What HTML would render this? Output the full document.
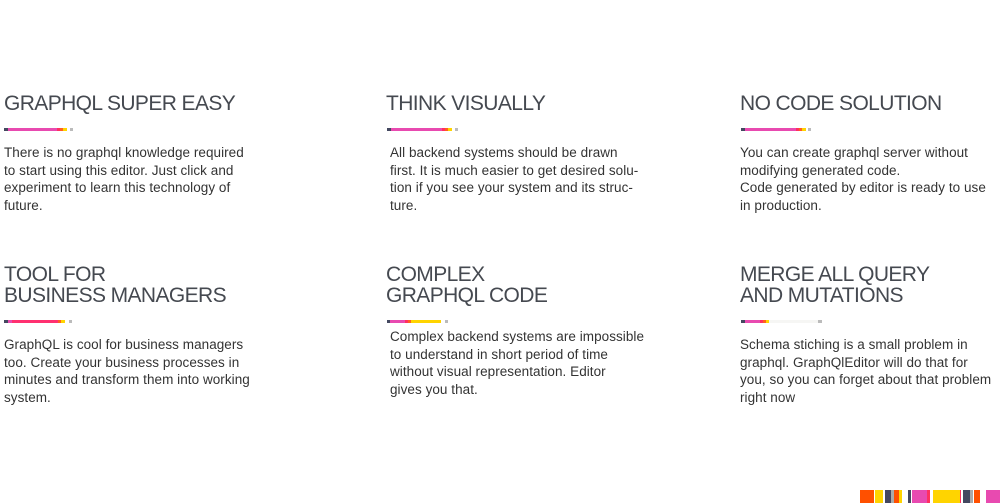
<!DOCTYPE html>
<html><head><meta charset="utf-8"><style>
body{margin:0;width:1000px;height:503px;background:#fff;position:relative;overflow:hidden;font-family:"Liberation Sans",sans-serif;}
.t{position:absolute;color:#454950;font-size:21px;line-height:21px;letter-spacing:-0.6px;white-space:pre;}
.b{position:absolute;color:#333;font-size:13.5px;line-height:17.5px;white-space:pre;letter-spacing:0.05px;}
.s{position:absolute;height:3px;}
</style></head><body>
<div class="t" style="left:4px;top:93px">GRAPHQL SUPER EASY</div>
<div class="t" style="left:386px;top:93px">THINK VISUALLY</div>
<div class="t" style="left:740px;top:93px">NO CODE SOLUTION</div>
<div class="t" style="left:4px;top:264px">TOOL FOR
BUSINESS MANAGERS</div>
<div class="t" style="left:386px;top:264px">COMPLEX
GRAPHQL CODE</div>
<div class="t" style="left:740px;top:264px">MERGE ALL QUERY
AND MUTATIONS</div>

<div class="b" style="left:4px;top:144px">There is no graphql knowledge required
to start using this editor. Just click and
experiment to learn this technology of
future.</div>
<div class="b" style="left:390px;top:144px">All backend systems should be drawn
first. It is much easier to get desired solu-
tion if you see your system and its struc-
ture.</div>
<div class="b" style="left:740px;top:144px">You can create graphql server without
modifying generated code.
Code generated by editor is ready to use
in production.</div>
<div class="b" style="left:4px;top:336px">GraphQL is cool for business managers
too. Create your business processes in
minutes and transform them into working
system.</div>
<div class="b" style="left:390px;top:328px">Complex backend systems are impossible
to understand in short period of time
without visual representation. Editor
gives you that.</div>
<div class="b" style="left:740px;top:336px">Schema stiching is a small problem in
graphql. GraphQlEditor will do that for
you, so you can forget about that problem
right now</div>

<!-- bar 1 -->
<div class="s" style="left:4px;top:128px;width:4px;background:#444860"></div>
<div class="s" style="left:8px;top:128px;width:49px;background:#e84ab0"></div>
<div class="s" style="left:57px;top:128px;width:3px;background:#ff3060"></div>
<div class="s" style="left:60px;top:128px;width:3px;background:#ff6020"></div>
<div class="s" style="left:63px;top:128px;width:4px;background:#ffd400"></div>
<div class="s" style="left:70px;top:128px;width:3px;background:#bbb"></div>
<!-- bar 2 -->
<div class="s" style="left:387px;top:128px;width:4px;background:#444860"></div>
<div class="s" style="left:391px;top:128px;width:51px;background:#e84ab0"></div>
<div class="s" style="left:442px;top:128px;width:3px;background:#ff3060"></div>
<div class="s" style="left:445px;top:128px;width:3px;background:#ff6020"></div>
<div class="s" style="left:448px;top:128px;width:4px;background:#ffd400"></div>
<div class="s" style="left:455px;top:128px;width:3px;background:#bbb"></div>
<!-- bar 3 -->
<div class="s" style="left:741px;top:128px;width:4px;background:#444860"></div>
<div class="s" style="left:745px;top:128px;width:51px;background:#e84ab0"></div>
<div class="s" style="left:796px;top:128px;width:3px;background:#ff3060"></div>
<div class="s" style="left:799px;top:128px;width:3px;background:#ff6020"></div>
<div class="s" style="left:802px;top:128px;width:4px;background:#ffd400"></div>
<div class="s" style="left:808px;top:128px;width:3px;background:#bbb"></div>
<!-- bar 4 -->
<div class="s" style="left:4px;top:320px;width:4px;background:#444860"></div>
<div class="s" style="left:8px;top:320px;width:4px;background:#e84ab0"></div>
<div class="s" style="left:12px;top:320px;width:46px;background:#ff3070"></div>
<div class="s" style="left:58px;top:320px;width:3px;background:#ff6020"></div>
<div class="s" style="left:61px;top:320px;width:4px;background:#ffd400"></div>
<div class="s" style="left:69px;top:320px;width:3px;background:#bbb"></div>
<!-- bar 5 -->
<div class="s" style="left:387px;top:320px;width:3px;background:#444860"></div>
<div class="s" style="left:390px;top:320px;width:15px;background:#e84ab0"></div>
<div class="s" style="left:405px;top:320px;width:3px;background:#ff3060"></div>
<div class="s" style="left:408px;top:320px;width:3px;background:#ff6020"></div>
<div class="s" style="left:411px;top:320px;width:30px;background:#ffd400"></div>
<div class="s" style="left:445px;top:320px;width:3px;background:#bbb"></div>
<!-- bar 6 -->
<div class="s" style="left:741px;top:320px;width:4px;background:#444860"></div>
<div class="s" style="left:745px;top:320px;width:15px;background:#e84ab0"></div>
<div class="s" style="left:760px;top:320px;width:3px;background:#ff3060"></div>
<div class="s" style="left:763px;top:320px;width:3px;background:#ff6020"></div>
<div class="s" style="left:766px;top:320px;width:3px;background:#ffd400"></div>
<div class="s" style="left:769px;top:320px;width:49px;background:#f6f6f4"></div>
<div class="s" style="left:818px;top:320px;width:4px;background:#bbb"></div>

<!-- bottom-right strip -->
<div style="position:absolute;top:490px;left:860px;height:13px;width:140px">
<div class="s" style="height:13px;left:0;width:14px;background:#ff5000"></div>
<div class="s" style="height:13px;left:15px;width:8px;background:#ffd400"></div>
<div class="s" style="height:13px;left:25px;width:6px;background:#444860"></div>
<div class="s" style="height:13px;left:31px;width:3px;background:#aaa"></div>
<div class="s" style="height:13px;left:34px;width:5px;background:#ff5000"></div>
<div class="s" style="height:13px;left:39px;width:3px;background:#ffd400"></div>
<div class="s" style="height:13px;left:48px;width:3px;background:#444860"></div>
<div class="s" style="height:13px;left:52px;width:15px;background:#e84ab0"></div>
<div class="s" style="height:13px;left:67px;width:3px;background:#ff3060"></div>
<div class="s" style="height:13px;left:73px;width:27px;background:#ffd400"></div>
<div class="s" style="height:13px;left:100px;width:1px;background:#ff3060"></div>
<div class="s" style="height:13px;left:103px;width:7px;background:#444860"></div>
<div class="s" style="height:13px;left:110px;width:3px;background:#aaa"></div>
<div class="s" style="height:13px;left:114px;width:6px;background:#ff5000"></div>
<div class="s" style="height:13px;left:126px;width:14px;background:#e84ab0"></div>
</div>
</body></html>
